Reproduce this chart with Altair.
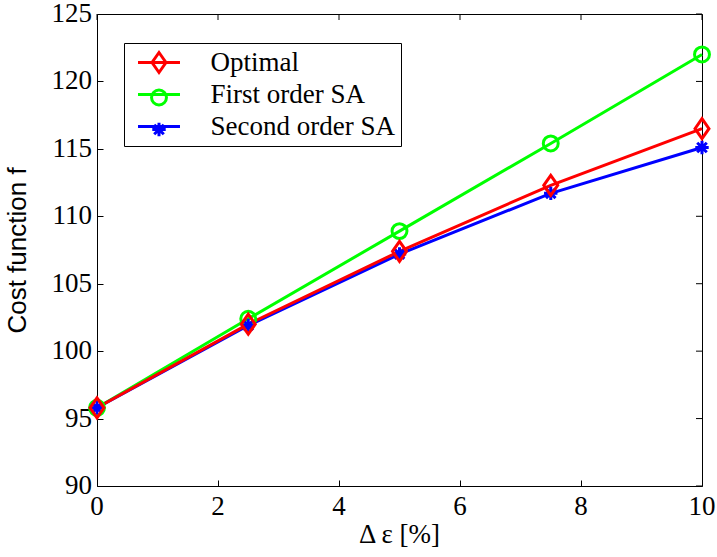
import altair as alt
import pandas as pd

# ---- data ----
x_vals = [0, 2.5, 5, 7.5, 10]
optimal = [95.8, 102.0, 107.4, 112.3, 116.5]
first_order = [95.8, 102.4, 108.9, 115.4, 122.0]
second_order = [95.8, 101.9, 107.2, 111.7, 115.1]
series_names = ["Optimal", "First order SA", "Second order SA"]
series_colors = ["#ff0000", "#00ff00", "#0000ff"]
x_ticks = [0, 2, 4, 6, 8, 10]
y_ticks = [90, 95, 100, 105, 110, 115, 120, 125]
x_title = "Δ ε [%]"
y_title = "Cost function f"

# drawing order (red on top)
rows = []
for name, vals in [("First order SA", first_order),
                   ("Second order SA", second_order),
                   ("Optimal", optimal)]:
    for xv, yv in zip(x_vals, vals):
        rows.append({"x": xv, "y": yv, "series": name, "series_m": name})
df = pd.DataFrame(rows)
xt_df = pd.DataFrame({"x": x_ticks, "label": [str(v) for v in x_ticks]})
yt_df = pd.DataFrame({"y": y_ticks, "label": [str(v) for v in y_ticks]})
title_df = pd.DataFrame({"t": [x_title]})

# marker shapes (custom paths)
diamond = "M0,-1.19L0.83,0L0,1.19L-0.83,0Z"
circle = "M0.89,0A0.89,0.89 0 1,1 -0.89,0A0.89,0.89 0 1,1 0.89,0Z"
star = "M0,-0.8V0.8M-0.8,0H0.8M-0.57,-0.57L0.57,0.57M-0.57,0.57L0.57,-0.57"
line_sym = "M-2.5,0H2.5"

SERIF = "Liberation Serif"
SANS = "Liberation Sans"
W, H = 605, 472
TICK = 6

legend_common = dict(
    orient="none", legendX=27, legendY=29, title=None, padding=6,
    rowPadding=4, symbolSize=282, symbolStrokeWidth=3, symbolOffset=15.5,
    labelOffset=38, labelFont=SERIF, labelFontSize=27, labelColor="black",
    labelLimit=400,
)

x_scale = alt.Scale(domain=[0, 10], nice=False, zero=False)
y_scale = alt.Scale(domain=[90, 125], nice=False, zero=False)

tick_common = dict(tickSize=TICK, tickColor="black", tickWidth=1, offset=-TICK,
                   domain=False, grid=False, labels=False)

x_axis = alt.Axis(values=x_ticks, orient="bottom", title=None, **tick_common)
y_axis = alt.Axis(values=y_ticks, orient="left", title=y_title,
                  titleFont=SANS, titleFontSize=26, titleFontWeight="normal",
                  titleColor="black", titlePadding=66, **tick_common)

X = lambda f: alt.X(f, scale=x_scale, axis=x_axis)
Y = lambda f: alt.Y(f, scale=y_scale, axis=y_axis)

# inward ticks on the top and right edges of the box
top_ticks = alt.Chart(xt_df).mark_rule(color="black", strokeWidth=1).encode(
    x=X("x:Q"), y=alt.value(0), y2=alt.value(TICK))
right_ticks = alt.Chart(yt_df).mark_rule(color="black", strokeWidth=1).encode(
    y=Y("y:Q"), x=alt.value(W - TICK), x2=alt.value(W))

# tick labels in Times-like serif, positioned through the scales
x_labels = alt.Chart(xt_df).mark_text(
    font=SERIF, fontSize=27, color="black", align="center", baseline="top"
).encode(x=X("x:Q"), y=alt.value(H + 8), text="label:N")
y_labels = alt.Chart(yt_df).mark_text(
    font=SERIF, fontSize=27, color="black", align="right", baseline="middle"
).encode(y=Y("y:Q"), x=alt.value(-5), text="label:N")
x_title_mark = alt.Chart(title_df).mark_text(
    font=SERIF, fontSize=27, color="black", align="center", baseline="top"
).encode(x=alt.value(W / 2), y=alt.value(H + 36), text="t:N")

# lines: legend drawn with line samples and the visible labels + box
lines = alt.Chart(df).mark_line(strokeWidth=3).encode(
    x=X("x:Q"), y=Y("y:Q"),
    stroke=alt.Stroke("series:N", sort=series_names,
                      scale=alt.Scale(range=series_colors),
                      legend=alt.Legend(symbolType=line_sym, strokeColor="black",
                                        fillColor="white",
                                        labelExpr="datum.label + '  '",
                                        **legend_common)),
)

# markers: second legend at the same place, markers only (color+shape merged)
marker_legend = alt.Legend(labelExpr="' '", **legend_common)
points = alt.Chart(df).mark_point(filled=False, strokeWidth=3, size=282,
                                  opacity=1).encode(
    x=X("x:Q"), y=Y("y:Q"),
    color=alt.Color("series_m:N",
                    scale=alt.Scale(domain=series_names, range=series_colors),
                    legend=marker_legend),
    shape=alt.Shape("series_m:N",
                    scale=alt.Scale(domain=series_names,
                                    range=[diamond, circle, star]),
                    legend=marker_legend),
)

chart = alt.layer(top_ticks, right_ticks, x_labels, y_labels, x_title_mark,
                  lines, points).properties(
    width=W, height=H,
    autosize=alt.AutoSizeParams(type="none"),
    padding={"left": 97, "top": 14, "right": 15, "bottom": 71},
    background="white",
).configure_view(
    stroke="black", strokeWidth=1
)

chart.save("out.html", embed_options={"renderer": "svg", "actions": False})
